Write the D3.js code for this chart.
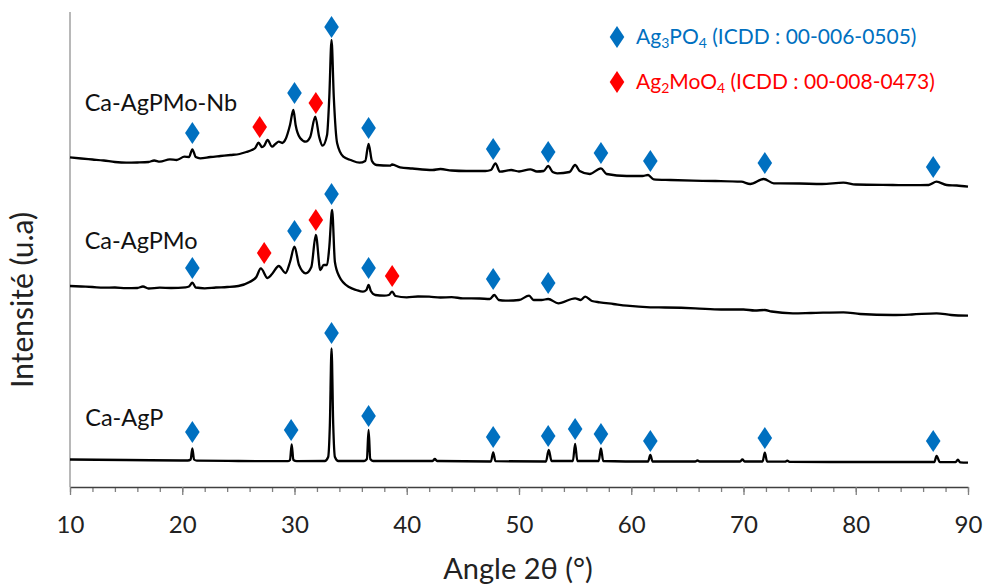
<!DOCTYPE html>
<html>
<head>
<meta charset="utf-8">
<script src="https://cdn.jsdelivr.net/npm/d3@7"></script>
<style>
  body { margin: 0; background: #fff; }
  text { font-family: Lato, "Open Sans", sans-serif; }
</style>
</head>
<body>
<script>
// XRD patterns, [angle 2theta, intensity a.u.] (stacked)
var caAgP = [
  [10,27.5],[15,27],[20.5,26.5],[20.75,27.5],[20.9,38.7],[21.05,27.5],[21.3,26.3],[25,26],
  [29.4,25.8],[29.6,27],[29.75,42.7],[29.9,27],[30.2,25.8],[32.7,26],[33.0,30],[33.15,62],
  [33.3,138.7],[33.45,62],[33.6,30],[33.9,26],[36.2,26],[36.45,28],[36.6,57],[36.75,28],
  [37.0,26],[42.3,26],[42.5,28],[42.7,26],[47.5,25.5],[47.7,34.7],[47.9,25.8],[52.4,25.5],
  [52.65,37],[52.9,26],[54.8,26],[55.0,43],[55.2,26],[57.1,26],[57.3,38.7],[57.5,26],
  [61.5,25.5],[61.7,32],[61.9,25.5],[65.7,25.5],[65.9,26.5],[66.1,25.5],[69.7,25.5],
  [69.9,27.5],[70.1,25.5],[71.7,25.5],[71.9,34.3],[72.1,25.5],[73.7,25.3],[73.9,26.3],
  [74.1,25.2],[77.8,25],[81.5,25],[87.0,25],[87.2,31],[87.5,24.8],[88.9,24.8],[89.1,27.3],
  [89.3,24.6],[90,24.3]
];

var caAgPMo = [
  [10,201],[11,200.5],[12,200],[13,199.3],[14,199.5],[15,198.8],[16,199],[16.5,200.5],[17,198.5],
  [18,199.3],[19,199],[20.3,199.7],[20.6,200.5],[20.9,204.3],[21.2,199.5],[22,198.7],[23,199.5],
  [24,200],[25,201],[26,205],[26.6,210],[27.0,218.7],[27.6,209],[28.0,213],[28.6,221],
  [29.2,214],[29.6,225],[30.0,240.3],[30.4,222],[31.0,213.7],[31.5,220],[31.9,252],[32.3,217],
  [32.6,222],[32.9,222],[33.1,240],[33.35,277],[33.6,225],[34.0,210.3],[34.9,199.7],[35.5,197],
  [36.1,195.3],[36.4,197],[36.6,202],[36.8,196],[37.2,192],[38.0,191.3],[38.4,192],[38.7,195.3],
  [39.0,191],[40.0,189.7],[41,190.5],[42,190.3],[43,189.5],[44,189.8],[45,188.7],[46.5,188.5],
  [47.4,188],[47.8,192],[48.2,187],[48.8,186.3],[50,187],[50.9,191.3],[51.3,187],[52.0,187],
  [52.6,188],[53.5,183.7],[55.0,188.7],[55.5,187],[55.9,190.3],[56.5,186],[57.2,184.7],
  [58.4,183],[59.6,181.3],[61.7,179.7],[63,179.5],[65.7,178.7],[68,177.5],[70.0,177.5],
  [71,176.5],[71.9,177],[72.5,175.5],[74.4,173.7],[76,174],[78.9,174.7],[80.4,173],[83.3,172],
  [85,172.5],[87.2,173.7],[88.5,172],[90,171.3]
];

var caAgPMoNb = [
  [10,329.7],[11,328.5],[12,327.5],[13,326.5],[14,325],[15,324.3],[16,324.5],[17,325],
  [17.5,326.5],[18,325.3],[18.9,327.7],[19.5,327],[20.2,330.3],[20.6,330],[20.9,337.7],
  [21.2,330],[21.6,328.7],[22.5,330],[23.4,331],[24.3,332],[25.1,333],[25.7,335],[26.2,337],
  [26.5,339],[26.8,344.3],[27.1,340],[27.3,341.3],[27.6,347],[28.0,340.3],[28.3,343],
  [28.6,345.3],[28.9,344],[29.2,347.7],[29.6,362],[29.9,377],[30.1,362],[30.5,349],
  [31.0,345.3],[31.4,350],[31.85,370.3],[32.2,350],[32.5,341.3],[32.9,352],[33.1,390],
  [33.3,447],[33.5,390],[33.8,343.7],[34.35,330.3],[35.0,327],[35.8,324.3],[36.3,326],
  [36.6,343],[36.9,326],[37.3,322],[38.5,321.3],[38.7,322.5],[39.4,319.7],[40.5,318.5],
  [42.3,317],[43.0,318],[44,316.5],[45.3,316],[47.0,316],[47.5,317],[47.9,323.7],[48.3,315.3],
  [49.3,317],[50.0,315.5],[51.0,317.7],[51.6,315.5],[52.2,316],[52.6,321],[53.0,315],
  [53.4,313.7],[54.5,315],[55.0,322],[55.4,316],[56.3,313],[57.3,318.7],[57.8,313],
  [59.6,311],[61.0,311],[61.5,312],[62.0,307.7],[63.5,307],[65.5,306.3],[67.5,306],
  [69.8,305.3],[70.6,303],[71.8,308],[72.7,303.7],[75,303.5],[77,303],[78.9,304.3],[80,302.5],
  [83.3,302],[85,301.8],[86.5,302],[87.2,305.3],[88.1,302],[89,301.5],[90,300.3]
];

var series = [caAgPMoNb, caAgPMo, caAgP];
var seriesNames = ["Ca-AgPMo-Nb", "Ca-AgPMo", "Ca-AgP"];
var seriesLabelPos = [[10.15, 384], [10.15, 246], [10.2, 69]];

// phase markers [angle, level]
var ag3po4Marks = [
  [20.9,354],[30.0,394],[33.3,460],[36.6,359],[47.7,338],[52.6,335],[57.3,334],[61.7,326],[71.9,324],[86.9,320],
  [20.9,219],[30.0,256],[33.3,293],[36.6,219],[47.7,208],[52.6,204],
  [20.9,55],[29.7,57],[33.3,154],[36.6,71],[47.7,50],[52.6,51],[55.0,58],[57.3,53],[61.7,46],[71.9,49],[86.9,46]
];
var ag2moo4Marks = [
  [26.9,360],[31.9,384],
  [27.3,234],[31.9,267],[38.7,211]
];

var xMajor = [10, 20, 30, 40, 50, 60, 70, 80, 90];
var xMinor = d3.range(10, 91, 2);

var blue = "#0070C0", red = "#FF0000";

var width = 985, height = 587;
var margin = {left: 70, right: 17, top: 12, bottom: 100};

var svg = d3.select("body").append("svg")
    .attr("width", width)
    .attr("height", height);

var x = d3.scaleLinear().domain([10, 90]).range([margin.left, width - margin.right]);
var y = d3.scaleLinear().domain([0, 475]).range([height - margin.bottom, margin.top]);

//diamond marker path
function diamond(cx, cy){
    var w = 7.3, h = 11;
    return "M" + cx + "," + (cy - h) + "L" + (cx + w) + "," + cy +
        "L" + cx + "," + (cy + h) + "L" + (cx - w) + "," + cy + "Z";
}

//left axis line (no ticks)
svg.append("line")
    .attr("x1", x(10)).attr("x2", x(10))
    .attr("y1", y(475)).attr("y2", y(0))
    .attr("stroke", "#a0a0a0").attr("stroke-width", 1.5);

//bottom axis, minor then major ticks
var minorAxis = svg.append("g")
    .attr("transform", "translate(0," + y(0) + ")")
    .call(d3.axisBottom(x).tickValues(xMinor).tickSize(5).tickFormat(""));
minorAxis.select(".domain").remove();
minorAxis.selectAll("line").attr("stroke", "#808080").attr("stroke-width", 1.3);

var majorAxis = svg.append("g")
    .attr("transform", "translate(0," + y(0) + ")")
    .call(d3.axisBottom(x).tickValues(xMajor).tickSize(8).tickSizeOuter(0).tickPadding(21));
majorAxis.select(".domain").attr("stroke", "#404040").attr("stroke-width", 1.5);
majorAxis.selectAll("line").attr("stroke", "#808080").attr("stroke-width", 1.3);
majorAxis.selectAll("text")
    .attr("font-family", "Lato, 'Open Sans', sans-serif")
    .attr("font-size", 24)
    .attr("fill", "#222");

//axis titles
svg.append("text")
    .attr("x", 518).attr("y", 579)
    .attr("text-anchor", "middle")
    .attr("font-size", 29)
    .attr("fill", "#222")
    .text("Angle 2θ (°)");

svg.append("text")
    .attr("transform", "translate(33,300) rotate(-90)")
    .attr("text-anchor", "middle")
    .attr("font-size", 30)
    .attr("fill", "#222")
    .text("Intensité (u.a)");

//patterns
var line = d3.line()
    .x(function(d){ return x(d[0]); })
    .y(function(d){ return y(d[1]); })
    .curve(d3.curveMonotoneX);

svg.selectAll(".pattern")
    .data(series)
    .enter()
    .append("path")
    .attr("class", "pattern")
    .attr("d", line)
    .attr("fill", "none")
    .attr("stroke", "#000")
    .attr("stroke-width", 2.3)
    .attr("stroke-linejoin", "round");

//sample labels
svg.selectAll(".sample")
    .data(seriesNames)
    .enter()
    .append("text")
    .attr("class", "sample")
    .attr("x", function(d, i){ return x(seriesLabelPos[i][0]) + 13; })
    .attr("y", function(d, i){ return y(seriesLabelPos[i][1]) + 8; })
    .attr("font-size", 23.5)
    .attr("fill", "#111")
    .text(function(d){ return d; });

//phase markers
svg.selectAll(".m-ag3po4")
    .data(ag3po4Marks)
    .enter()
    .append("path")
    .attr("class", "m-ag3po4")
    .attr("d", function(d){ return diamond(x(d[0]), y(d[1])); })
    .attr("fill", blue);

svg.selectAll(".m-ag2moo4")
    .data(ag2moo4Marks)
    .enter()
    .append("path")
    .attr("class", "m-ag2moo4")
    .attr("d", function(d){ return diamond(x(d[0]), y(d[1])); })
    .attr("fill", red);

//legend
var legendItems = [
    {color: blue, y: 37, parts: [["Ag", 0], ["3", 1], ["PO", 0], ["4", 1], [" (ICDD : 00-006-0505)", 0]]},
    {color: red, y: 82, parts: [["Ag", 0], ["2", 1], ["MoO", 0], ["4", 1], [" (ICDD : 00-008-0473)", 0]]}
];

var legend = svg.selectAll(".legend")
    .data(legendItems)
    .enter()
    .append("g")
    .attr("class", "legend");

legend.append("path")
    .attr("d", function(d){ return diamond(617, d.y); })
    .attr("fill", function(d){ return d.color; });

var lt = legend.append("text")
    .attr("x", 636)
    .attr("y", function(d){ return d.y + 7; })
    .attr("font-size", 21)
    .attr("fill", function(d){ return d.color; });

lt.selectAll("tspan")
    .data(function(d){ return d.parts; })
    .enter()
    .append("tspan")
    .attr("font-size", function(p){ return p[1] ? 14 : 21; })
    .attr("dy", function(p, i, nodes){
        var prev = i > 0 ? d3.select(nodes[i - 1]).datum()[1] : 0;
        return (p[1] - prev) * 4;
    })
    .text(function(p){ return p[0]; });
</script>
</body>
</html>
